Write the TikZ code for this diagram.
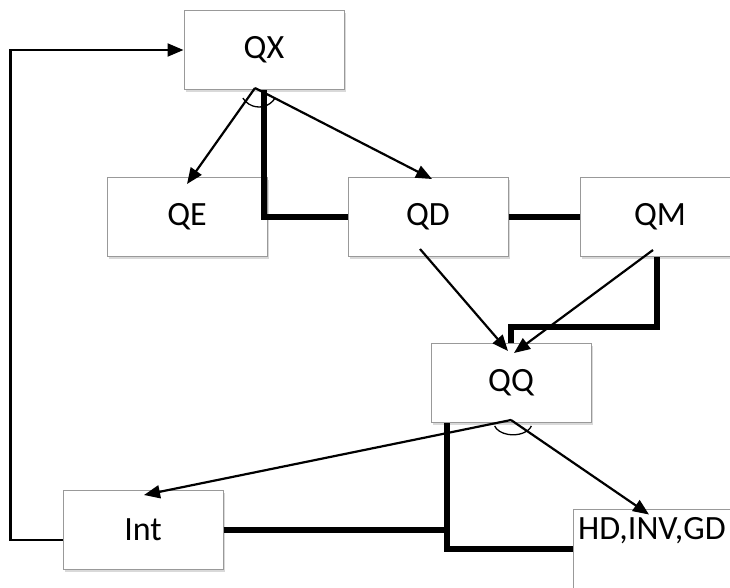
\documentclass[tikz,border=0pt]{standalone}
\usepackage{fontspec}
\setmainfont{Carlito}
\usetikzlibrary{arrows.meta,shadows,calc}

\begin{document}
\begin{tikzpicture}[x=1pt,y=-1pt,
  box/.style={draw=black!40, line width=1pt, fill=white,
    minimum width=160pt, minimum height=79pt, inner sep=0pt,
    font=\fontsize{34}{38}\selectfont,
    drop shadow={opacity=0.3, shadow xshift=2pt, shadow yshift=-2.5pt}},
  lbl/.style={inner sep=0pt, font=\fontsize{34}{38}\selectfont},
  link/.style={line width=2.2pt, -{Triangle[length=16pt,width=13pt]}},
  bond/.style={line width=6pt},
  hinge/.style={line width=1.3pt},
]
\useasboundingbox (0,0) rectangle (730,587);

% boxes
\node[box] (QX) at (264,50) {QX};
\node[box] (QE) at (187,217) {QE};
\node[box] (QD) at (428,217) {QD};
\node[box] (QM) at (660,217) {QM};
\node[box] (QQ) at (511,383) {QQ};
\node[box] (Int) at (143,530) {Int};
\node[box, minimum height=80pt] (HD) at (653,549) {};
\node[lbl] (HDt) at (652,531) {HD,INV,GD};

% junction points
\coordinate (qxo) at (255,88);
\coordinate (qqo) at (511,420);
\coordinate (mq) at (511,327);

% feedback loop from Int back to QX
\draw[link] ([yshift=-10pt]Int.west) -- ++(-52,0) |- (QX.west);

% thin arrows
\draw[link] (qxo) -- ([yshift=-7pt]QE.north);
\draw[link] (qxo) -- ([xshift=4pt,yshift=-2pt]QD.north);
\draw[link] (420,249) -- ([xshift=-3pt,yshift=-8pt]QQ.north);
\draw[link] (653,250) -- ([xshift=3pt,yshift=-10pt]QQ.north);
\draw[link] (qqo) -- ([xshift=1pt,yshift=-5pt]Int.north);
\draw[link] (qqo) -- ([xshift=-4pt,yshift=-6pt]HD.north);

% thick bonds
\draw[bond] (QX.south) -- (QX.south |- QD.west) -- (QD.west);
\draw[bond] (QD.east) -- (QM.west);
\draw[bond] ([xshift=-3pt]QM.south) |- (mq) -- (QQ.north);
\draw[bond] (447,423) |- (HD.west);
\draw[bond] (Int.east) -- (447,530);

% hinge arcs
\draw[hinge] (259,88) ++(32:19) arc[start angle=32, end angle=148, radius=19];
\draw[hinge] (513,421) ++(15:19) arc[start angle=15, end angle=165, x radius=19, y radius=12];
\end{tikzpicture}
\end{document}
